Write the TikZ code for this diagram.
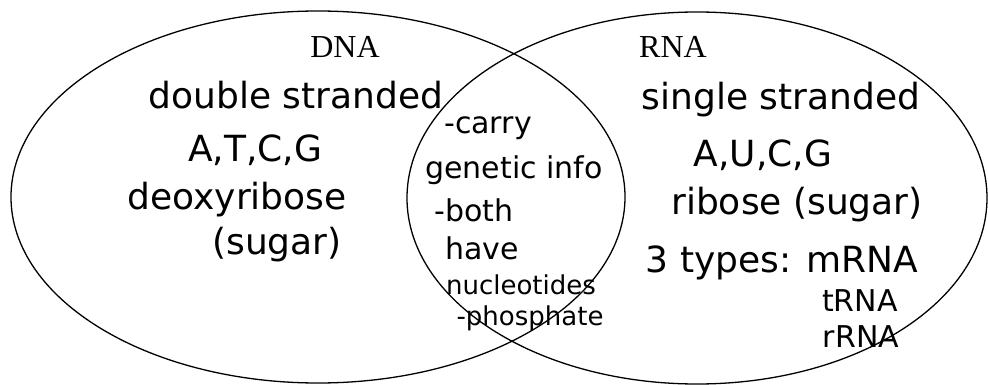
\documentclass[tikz,border=0pt]{standalone}
\usepackage{fontspec}
\setmainfont{Liberation Serif}
\newfontfamily\handfont{DejaVu Sans}
\usepackage{tikz}

\begin{document}
\begin{tikzpicture}[x=1pt, y=-1pt,
  title/.style={font=\fontsize{32}{32}\selectfont},
  hand/.style={inner sep=0pt, font=\handfont\fontsize{36}{36}\selectfont},
  handmid/.style={inner sep=0pt, font=\handfont\fontsize{30}{30}\selectfont},
  handsmall/.style={inner sep=0pt, font=\handfont\fontsize{26}{26}\selectfont},
  venn/.style={line width=1.3pt}]
  \useasboundingbox (0,0) rectangle (988,385);
  % Sets
  \draw[venn] (318,197) ellipse [x radius=307, y radius=186];
  \draw[venn] (697,198) ellipse [x radius=290, y radius=186];
  % Headings
  \node[title] (dna) at (345,47) {DNA};
  \node[title] (rna) at (673,47) {RNA};
  % DNA only
  \node[hand] (dstrand) at (296,95) {double stranded};
  \node[hand] (dbases) at (255,150) {A,T,C,G};
  \node[hand] (dsugar) at (237,200) {deoxyribose};
  \node[hand] (dsugar2) at (277,245) {(sugar)};
  % Both
  \node[handmid] (carry) at (488,128) {-carry};
  \node[handmid] (info) at (514,170) {genetic info};
  \node[handmid] (both) at (474,210) {-both};
  \node[handmid] (have) at (482,248) {have};
  \node[handsmall] (nucl) at (521,285) {nucleotides};
  \node[handsmall] (phos) at (530,318) {-phosphate};
  % RNA only
  \node[hand] (rstrand) at (781,100) {single stranded};
  \node[hand] (rbases) at (763,155) {A,U,C,G};
  \node[hand] (rsugar) at (797,205) {ribose (sugar)};
  \node[hand] (rtypes) at (782,263) {3 types: mRNA};
  \node[handmid] (trna) at (860,301) {tRNA};
  \node[handmid] (rrna) at (861,337) {rRNA};
\end{tikzpicture}
\end{document}
